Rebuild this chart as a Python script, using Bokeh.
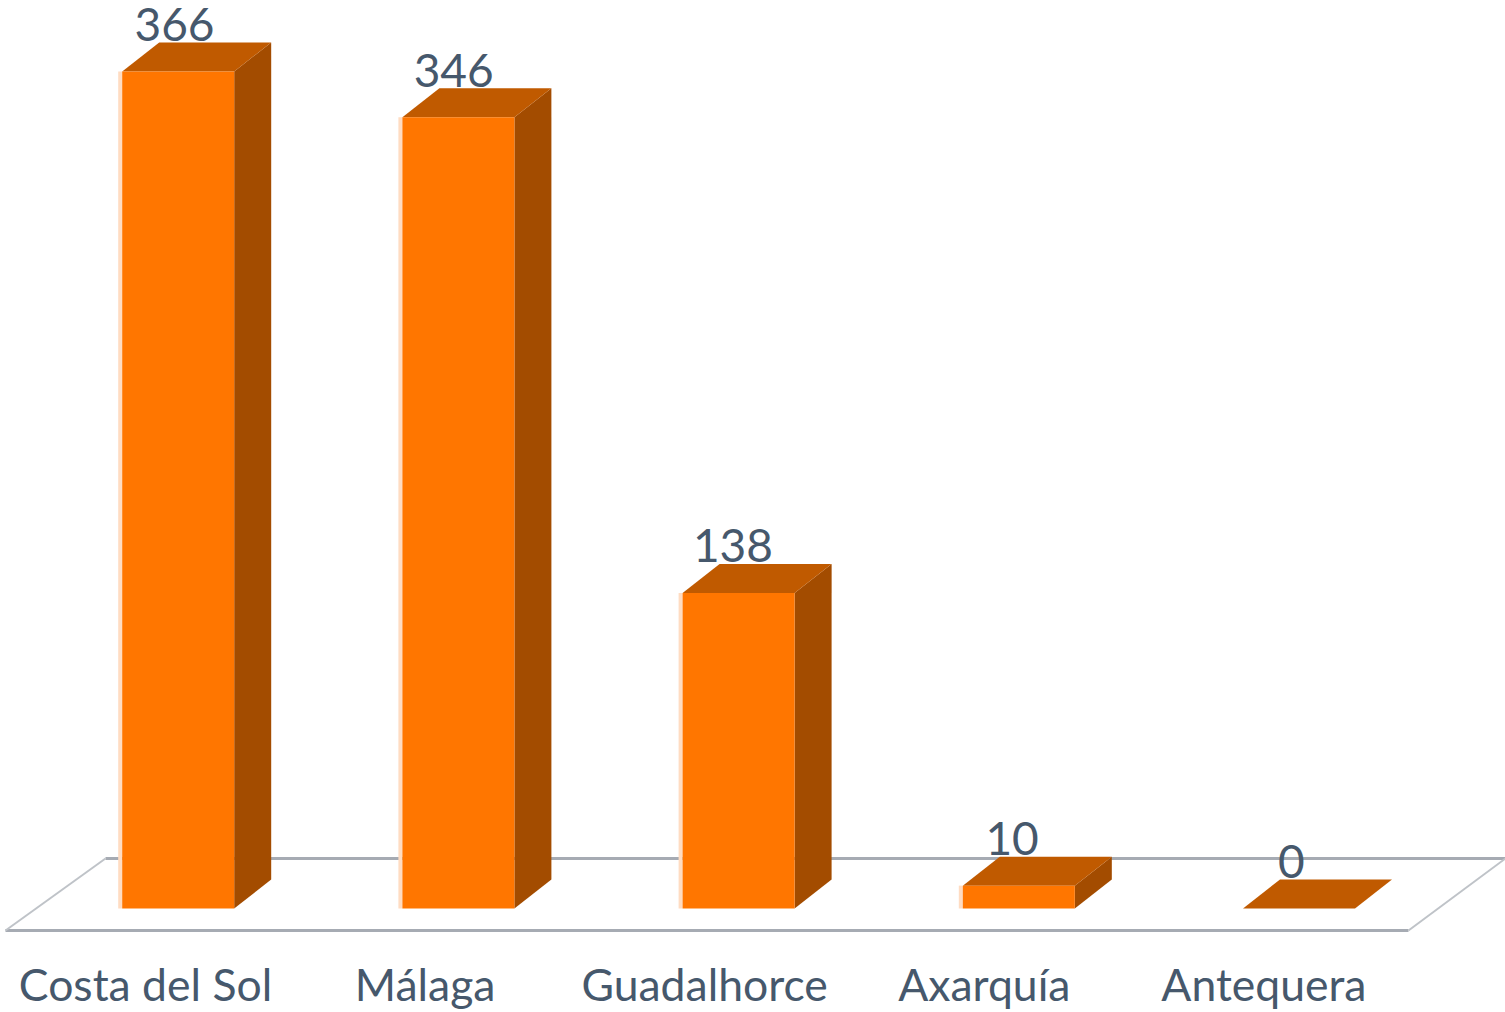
from bokeh.plotting import figure
from bokeh.models import ColumnDataSource, Range1d
from bokeh.core.properties import value
from bokeh.embed import file_html
from bokeh.resources import INLINE

categories = ["Costa del Sol", "Málaga", "Guadalhorce", "Axarquía", "Antequera"]
counts = [366, 346, 138, 10, 0]

W, H = 1505, 1012
X0, STEP = 177.7, 280.2            # image px of first bar centre, px per category
Y0, PX_PER_UNIT = 908.0, 2.287     # image px of zero, px per count
HALF, DX, DY = 56.0, 37.0, 29.0    # bar half width and 3D depth, in px

FONT = "Lato"
TEXT = "#46586C"
FRONT, TOP, SIDE, GLOW = "#FF7600", "#C05A00", "#A34C00", "#FFDCC2"
FLOOR = "#A6ABB3"


def ux(px):
    return px / STEP


def uy(px):
    return px / PX_PER_UNIT


p = figure(
    width=W, height=H, output_backend="svg", toolbar_location=None,
    x_range=Range1d(-X0 / STEP, (W - X0) / STEP),
    y_range=Range1d((Y0 - H) / PX_PER_UNIT, Y0 / PX_PER_UNIT),
    min_border=0, outline_line_color=None, background_fill_color="white",
)
p.axis.visible = False
p.grid.visible = False

xs = list(range(len(categories)))

# floor parallelogram
fl_l, fl_r = ux(5 - X0), ux(1408 - X0)
front_y, back_y = uy(Y0 - 930), uy(Y0 - 858)
p.segment(x0=[fl_l + ux(100)], y0=[back_y], x1=[fl_r + ux(97)], y1=[back_y], line_color=FLOOR, line_width=3)
p.segment(x0=[fl_l], y0=[front_y], x1=[fl_r], y1=[front_y], line_color=FLOOR, line_width=3)
p.segment(x0=[fl_l, fl_r], y0=[front_y, front_y], x1=[fl_l + ux(100), fl_r + ux(97)], y1=[back_y, back_y],
          line_color="#BFC3C8", line_width=2)

src = ColumnDataSource(dict(
    x=xs, v=counts, base=[0] * len(xs),
    label=[str(v) for v in counts],
    label_x=[x * 279.2 / STEP for x in xs],
))

# light halo on the left edge of each bar
p.quad(left=[x - ux(HALF + 4) for x in xs], right=[x - ux(HALF) for x in xs],
       bottom=[0] * len(xs), top=counts, fill_color=GLOW, line_color=None)

# side faces
p.patches(
    xs=[[x + ux(HALF), x + ux(HALF + DX), x + ux(HALF + DX), x + ux(HALF)] for x in xs],
    ys=[[0, uy(DY), v + uy(DY), v] for v in counts],
    fill_color=SIDE, line_color=None,
)
# top faces
p.patches(
    xs=[[x - ux(HALF), x + ux(HALF), x + ux(HALF + DX), x - ux(HALF - DX)] for x in xs],
    ys=[[v, v, v + uy(DY), v + uy(DY)] for v in counts],
    fill_color=TOP, line_color=None,
)
# front faces
p.vbar(x="x", top="v", bottom="base", width=ux(2 * HALF), source=src, fill_color=FRONT, line_color=None)

# value labels
p.text(x="label_x", y="v", text="label", source=src, x_offset=-3.7, y_offset=-47,
       text_align="center", text_baseline="alphabetic", text_color=TEXT,
       text_font=value(FONT), text_font_size="46px")

# category labels
p.text(x=[x * 279.6 / STEP for x in xs], y=[uy(Y0 - 1000)] * len(xs), text=categories, x_offset=-32.7, y_offset=-17,
       text_align="center", text_baseline="alphabetic", text_color=TEXT,
       text_font=value(FONT), text_font_size="44.5px")

open("out.html", "w").write(file_html(p, INLINE))
